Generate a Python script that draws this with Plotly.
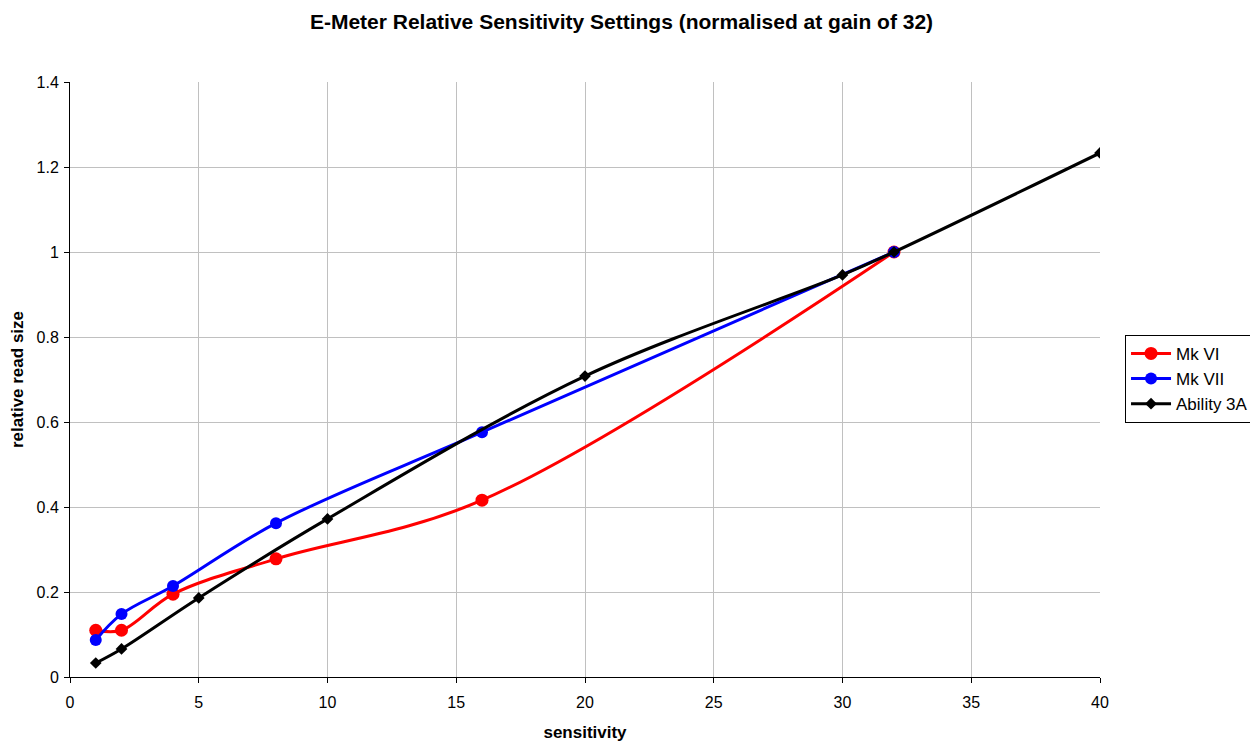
import plotly.graph_objects as go

mk6_x = [1, 2, 4, 8, 16, 32]
mk6_y = [0.11, 0.11, 0.195, 0.278, 0.416, 1.0]
mk7_x = [1, 2, 4, 8, 16, 32]
mk7_y = [0.087, 0.148, 0.214, 0.362, 0.576, 1.0]
ab_x = [1, 2, 5, 10, 20, 30, 32, 40]
ab_y = [0.033, 0.066, 0.186, 0.372, 0.708, 0.946, 1.0, 1.233]

x_ticks = [0, 5, 10, 15, 20, 25, 30, 35, 40]
y_ticks = [0, 0.2, 0.4, 0.6, 0.8, 1.0, 1.2, 1.4]
y_tick_text = ["0", "0.2", "0.4", "0.6", "0.8", "1", "1.2", "1.4"]

fig = go.Figure()
fig.add_trace(go.Scatter(x=mk6_x, y=mk6_y, name="Mk VI", mode="lines+markers",
                         line=dict(color="#FF0000", width=3, shape="spline", smoothing=1.0),
                         marker=dict(symbol="circle", size=13, color="#FF0000")))
fig.add_trace(go.Scatter(x=mk7_x, y=mk7_y, name="Mk VII", mode="lines+markers",
                         line=dict(color="#0000FF", width=3, shape="spline", smoothing=1.0),
                         marker=dict(symbol="circle", size=12, color="#0000FF")))
fig.add_trace(go.Scatter(x=ab_x, y=ab_y, name="Ability 3A", mode="lines+markers",
                         line=dict(color="#000000", width=3, shape="spline", smoothing=1.0),
                         marker=dict(symbol="diamond", size=9, color="#000000")))

fig.update_layout(
    width=1258, height=745,
    paper_bgcolor="white", plot_bgcolor="white",
    margin=dict(l=62, r=166, t=74, b=76),
    font=dict(family="Arial, Liberation Sans, sans-serif", size=16, color="black"),
    title=dict(text="<b>E-Meter Relative Sensitivity Settings (normalised at gain of 32)</b>",
               x=613.5 / 1258, xanchor="center", y=1 - 14 / 745, yanchor="middle",
               font=dict(size=21, color="black")),
    xaxis=dict(range=[0, 40], tickvals=x_ticks,
               showgrid=True, gridcolor="#C0C0C0", gridwidth=1,
               showline=True, linecolor="black", linewidth=1,
               ticks="outside", ticklen=5, tickcolor="black",
               ticklabelstandoff=6, automargin=False,
               zeroline=False, mirror=False, tickfont=dict(size=16),
               title=dict(text="<b>sensitivity</b>", font=dict(size=17), standoff=15)),
    yaxis=dict(range=[0, 1.4], tickvals=y_ticks, ticktext=y_tick_text,
               showgrid=True, gridcolor="#C0C0C0", gridwidth=1,
               showline=True, linecolor="black", linewidth=1,
               ticks="outside", ticklen=5, tickcolor="black",
               ticklabelstandoff=2, automargin=False,
               zeroline=False, tickfont=dict(size=16),
               title=dict(text="<b>relative read size</b>", font=dict(size=17), standoff=10)),
    legend=dict(x=1.0243, xanchor="left", y=0.501, yanchor="middle",
                bordercolor="black", borderwidth=1, bgcolor="white",
                font=dict(size=17), itemwidth=40, tracegroupgap=0),
)

fig.write_html("out.html")
